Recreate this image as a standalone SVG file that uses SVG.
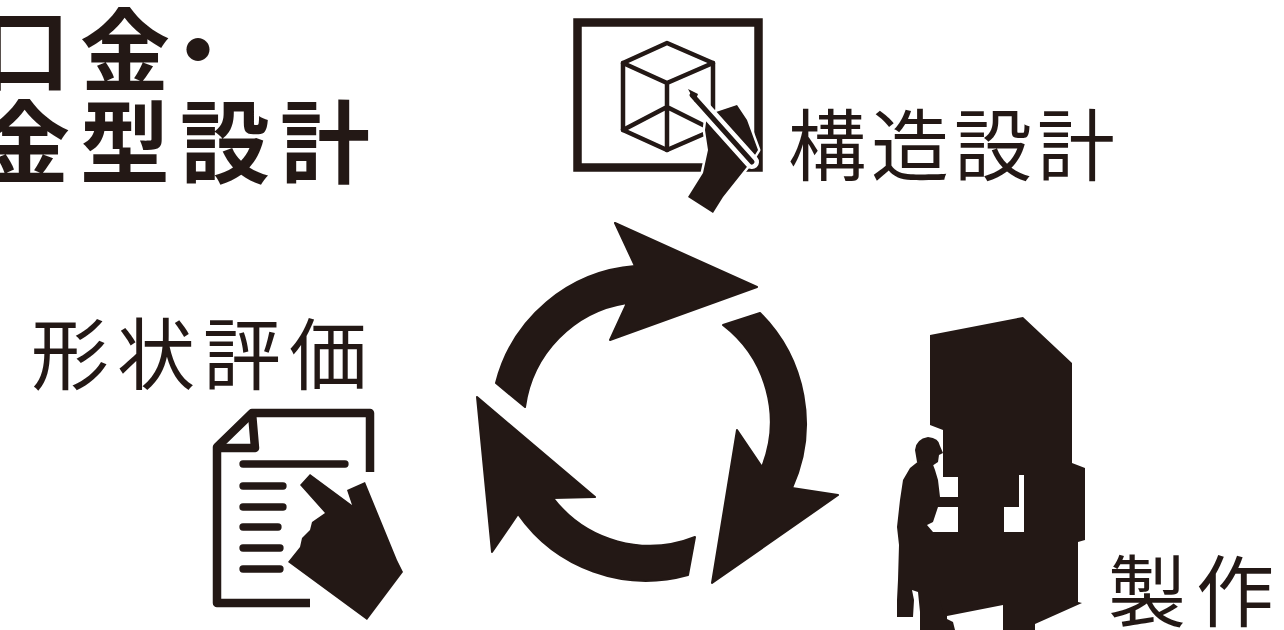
<svg xmlns="http://www.w3.org/2000/svg" width="1284" height="630" viewBox="0 0 1284 630">
  <style>
    .ink { fill: #231815; }
    .title { font-family: "Noto Sans CJK JP", "Noto Sans", sans-serif; font-weight: 700; font-size: 90px; fill: #231815; letter-spacing: 10px; }
    .label { font-family: "Noto Sans CJK JP", "Noto Sans", sans-serif; font-weight: 400; font-size: 78px; fill: #231815; }
    .wire { fill: none; stroke: #231815; stroke-linejoin: round; stroke-linecap: round; }
    .cut { fill: #231815; stroke: #ffffff; paint-order: stroke; stroke-linejoin: round; }
    .cycle { fill: #231815; stroke: #231815; stroke-width: 2; stroke-linejoin: round; }
  </style>
  <rect width="1284" height="630" fill="#ffffff"/>

  <!-- heading -->
  <g id="title">
    <text class="title" x="-20" y="84">口金</text>
    <text class="title" x="153" y="84">・</text>
    <text class="title" x="-20" y="176">金型設計</text>
  </g>

  <!-- structure design: framed cube with drawing hand -->
  <g id="structure-design">
    <rect x="577.5" y="22.5" width="181" height="145" fill="none" stroke="#231815" stroke-width="8.5"/>
    <g class="wire" stroke-width="4.5">
      <path d="M667,43 L623,63 L623,130 L667,150 L713,130 L713,63 Z"/>
      <path d="M623,63 L667,83 L713,63 M667,83 L667,150 M623,130 L667,107 L713,130"/>
    </g>
    <path class="cut" stroke-width="5" d="M705,130 L707,115 L737,105 L747,120 L758,150 L750,163 L723,197 L713,213 L688,197 L703,173 L708,150 Z"/>
    <line x1="692" y1="95" x2="752" y2="162" stroke="#ffffff" stroke-width="14" stroke-linecap="round"/>
    <line x1="692" y1="95" x2="752" y2="162" stroke="#231815" stroke-width="5" stroke-linecap="round"/>
    <path class="ink" d="M688,89 L698,94 L695,102 Z"/>
    <text class="label" x="788" y="175" letter-spacing="5">構造設計</text>
  </g>

  <!-- shape evaluation: document with pointing hand -->
  <g id="shape-evaluation">
    <text class="label" x="31" y="384" letter-spacing="8">形状評価</text>
    <g class="wire" stroke-width="8.5">
      <path d="M370,472 L370,413 L252,413 L217,447 L217,603 L310,603" stroke-linecap="butt"/>
      <path d="M252,413 L255,448 L217,448" stroke-linecap="butt"/>
    </g>
    <g class="wire" stroke-width="7.3">
      <line x1="243" y1="464" x2="345" y2="464"/>
      <line x1="243" y1="486" x2="283" y2="486"/>
      <line x1="243" y1="507" x2="283" y2="507"/>
      <line x1="243" y1="527" x2="278" y2="527"/>
      <line x1="243" y1="548" x2="280" y2="548"/>
      <line x1="243" y1="569" x2="280" y2="569"/>
    </g>
    <path class="cut" stroke-width="7" d="M300,485 L310,474 L352,505 L347,490 L365,482 L397,560 L403,572 L367,620 L288,562 L300,547 L302,538 L310,530 L312,522 L325,513 Z"/>
  </g>

  <!-- circular process arrows -->
  <g id="cycle">
    <path class="cycle" d="M496,383 A156,156 0 0 1 635,266 L615,223 L757,287 L610,340 L627,303 A122,122 0 0 0 525,407 Z"/>
    <path class="cycle" d="M760,313 A156,156 0 0 1 792,488 L838,495 L712,583 L737,430 L762,467 A122,122 0 0 0 723,325 Z"/>
    <path class="cycle" d="M688,575 A156,156 0 0 1 518,514 L492,552 L477,397 L595,497 L553,498 A122,122 0 0 0 695,537 Z"/>
  </g>

  <!-- manufacturing: press machine with operator -->
  <g id="manufacturing">
    <path class="ink" d="M930,335 L1023,317 L1072,363 L1072,463 L1085,468 L1085,540 L1078,542 L1078,602 L1082,603 L1035,624 L1035,630 L1003,630 L1003,605 L947,616 L947,630 L930,630 L930,532 L958,532 L958,477 L943,477 L943,430 L930,425 Z"/>
    <rect x="1004" y="507" width="20" height="25" fill="#ffffff"/>
    <rect x="1019" y="475" width="5" height="33" fill="#ffffff"/>
    <rect x="940" y="477" width="18" height="55" fill="#ffffff"/>
    <!-- operator: head in profile, body reaching into the press -->
    <path class="ink" d="M917,462 L915,450 Q916,439 928,437 Q939,438 940,446 L943,453 L939,455 L938,462 L932,466 Z"/>
    <path class="ink" d="M920,460 L910,468 L903,480 L900,500 L897,527 L899,545 L898,580 L897,600 L897,617 L913,617 L914,600 L912,590 L918,592 L920,612 L920,630 L955,630 L953,622 L945,618 L940,600 L940,532 L933,532 L927,525 L933,522 L938,507 L958,507 L958,497 L940,497 L938,480 L935,470 L932,462 Z"/>
    <text class="label" x="1108" y="621" letter-spacing="10">製作</text>
  </g>
</svg>
